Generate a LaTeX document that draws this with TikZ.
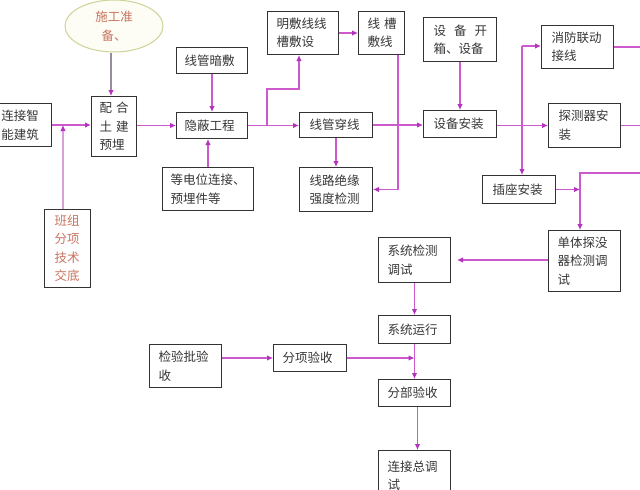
\documentclass[tikz,border=0pt]{standalone}
\usepackage{fontspec}
\newfontfamily\cjk{Noto Sans CJK SC}
\usetikzlibrary{arrows.meta,shapes.geometric}
\definecolor{lnc}{RGB}{204,90,204}
\definecolor{ahc}{RGB}{180,50,190}
\definecolor{txc}{RGB}{55,55,55}
\definecolor{rtx}{RGB}{200,115,95}
\definecolor{ebd}{RGB}{205,212,150}
\definecolor{efl}{RGB}{253,253,245}
\definecolor{gln}{RGB}{150,140,155}
\definecolor{pln}{RGB}{215,160,215}
\begin{document}
\begin{tikzpicture}[x=1pt,y=-1pt,
  font=\cjk\fontsize{12.5}{18.5}\selectfont,
  bx/.style={draw=black!80, line width=1pt, anchor=north west, inner ysep=0pt,
    inner xsep=9pt, align=left, text=txc},
  arr/.style={draw=lnc, line width=1.1pt, -{Latex[length=6pt,width=5.5pt,color=ahc]}},
  ln/.style={draw=lnc, line width=1.1pt}]
\useasboundingbox (0,0) rectangle (640,490);
\clip (0,0) rectangle (640,490);
\fill[white] (0,0) rectangle (640,490);

\node[ellipse, draw=ebd, fill=efl, line width=1pt, minimum width=98pt, minimum height=52pt,
  inner sep=0pt, align=center, text=rtx] (sg) at (114,26) {施工准\\备、};

\node[bx, inner xsep=7pt, text width=43pt, minimum height=43pt] (lj) at (-6,103) {连接智\\能建筑};
\node[bx, inner xsep=8pt, text width=29pt, minimum height=60pt] (ph) at (91,96) {\mbox{配\hspace{4pt}合}\\\mbox{土\hspace{4pt}建}\\预埋};
\node[bx, inner xsep=8pt, text width=55pt, minimum height=26pt] (xgad) at (176,47) {线管暗敷};
\node[bx, inner xsep=8pt, text width=55pt, minimum height=26pt] (yb) at (176,112) {隐蔽工程};
\node[bx, inner xsep=8pt, text width=75pt, minimum height=43pt] (ddw) at (162,167) {等电位连接、\\预埋件等};
\node[bx, inner xsep=10pt, text width=26pt, minimum height=78pt, text=rtx] (bz) at (44,209) {班组\\分项\\技术\\交底};
\node[bx, inner xsep=9pt, text width=53pt, minimum height=43pt] (mf) at (267,11) {明敷线线\\槽敷设};
\node[bx, inner xsep=9pt, text width=28pt, minimum height=43pt] (xc) at (358,11) {\mbox{线\hspace{4pt}槽}\\敷线};
\node[bx, inner xsep=10pt, text width=53pt, minimum height=25pt] (xgcx) at (299,112) {线管穿线};
\node[bx, inner xsep=10pt, text width=53pt, minimum height=44pt] (xljy) at (299,167) {线路绝缘\\强度检测};
\node[bx, inner xsep=10pt, text width=53pt, minimum height=44pt] (sbkx) at (423,17) {\mbox{设\hspace{8pt}备\hspace{8pt}开}\\箱、设备};
\node[bx, inner xsep=10pt, text width=53pt, minimum height=27pt] (sbaz) at (423,110) {设备安装};
\node[bx, inner xsep=10pt, text width=52pt, minimum height=43pt] (xf) at (541,25) {消防联动\\接线};
\node[bx, inner xsep=10pt, text width=52pt, minimum height=44pt] (tcq) at (548,103) {探测器安\\装};
\node[bx, inner xsep=10pt, text width=53pt, minimum height=28pt] (cz) at (482,175) {插座安装};
\node[bx, inner xsep=9pt, text width=54pt, minimum height=61pt] (dt) at (548,230) {单体探没\\器检测调\\试};
\node[bx, inner xsep=9pt, text width=54pt, minimum height=45pt] (xtjc) at (378,237) {系统检测\\调试};
\node[bx, inner xsep=9pt, text width=54pt, minimum height=28pt] (xtyx) at (378,315) {系统运行};
\node[bx, inner xsep=9pt, text width=54pt, minimum height=43pt] (jyp) at (149,344) {检验批验\\收};
\node[bx, inner xsep=9pt, text width=55pt, minimum height=27pt] (fxys) at (273,344) {分项验收};
\node[bx, inner xsep=9pt, text width=54pt, minimum height=27pt] (fbys) at (378,379) {分部验收};
\node[bx, inner xsep=9pt, text width=54pt, minimum height=50pt] (ljz) at (378,450) {连接总调\\试};

\coordinate (j1) at (63,125);
\coordinate (j2) at (267,125);
\coordinate (j3) at (299,89);
\coordinate (j4) at (398,188);
\coordinate (j5) at (522,46);
\coordinate (j6) at (580,189);
\coordinate (e1) at (645,173);

% connectors
\draw[arr] (lj.east) -- (lj.east -| ph.west);
\draw[draw=pln, line width=1.1pt, -{Latex[length=6pt,width=5.5pt,color=ahc]}] (bz.north -| j1) -- (j1);
\draw[draw=gln, line width=1.1pt, -{Latex[length=6pt,width=5.5pt,color=ahc]}] ([xshift=-3pt]sg.south) -- ([xshift=-3pt]sg.south |- ph.north);
\draw[arr] (ph.east |- yb.west) -- (yb.west);
\draw[arr] (xgad.south) -- (yb.north);
\draw[arr] (ddw.north) -- (ddw.north |- yb.south);
\draw[arr] (yb.east) -- (yb.east -| xgcx.west);
\draw[arr] (j2) |- (j3) -- (j3 |- mf.south);
\draw[arr] (mf.east) -- (mf.east -| xc.west);
\draw[arr] (xgcx.south) -- (xgcx.south |- xljy.north);
\draw[arr] (xc.south -| j4) |- (xljy.east);
\draw[arr] (xgcx.east) -- (xgcx.east -| sbaz.west);
\draw[arr] (sbkx.south) -- (sbkx.south |- sbaz.north);
\draw[arr] (sbaz.east |- tcq.west) -- (tcq.west);
\draw[arr] (j5) -- (j5 -| xf.west);
\draw[arr] (j5) -- (j5 |- cz.north);
\draw[arr] (cz.east) -- (cz.east -| j6);
\draw[arr] (e1) -| (j6 |- dt.north);
\draw[ln] (xf.east) -- ++(35,0);
\draw[ln] (tcq.east) -- ++(30,0);
\draw[arr, shorten >=6pt] (dt.west |- xtjc.east) -- (xtjc.east);
\draw[arr] (xtjc.south) -- (xtyx.north);
\draw[arr] (xtyx.south) -- (fbys.north);
\draw[arr] (jyp.east |- fxys.west) -- (fxys.west);
\draw[arr] (fxys.east) -- (fxys.east -| xtyx.south);
\draw[arr] ([xshift=3pt]fbys.south) -- ([xshift=3pt]fbys.south |- ljz.north);
\end{tikzpicture}
\end{document}
